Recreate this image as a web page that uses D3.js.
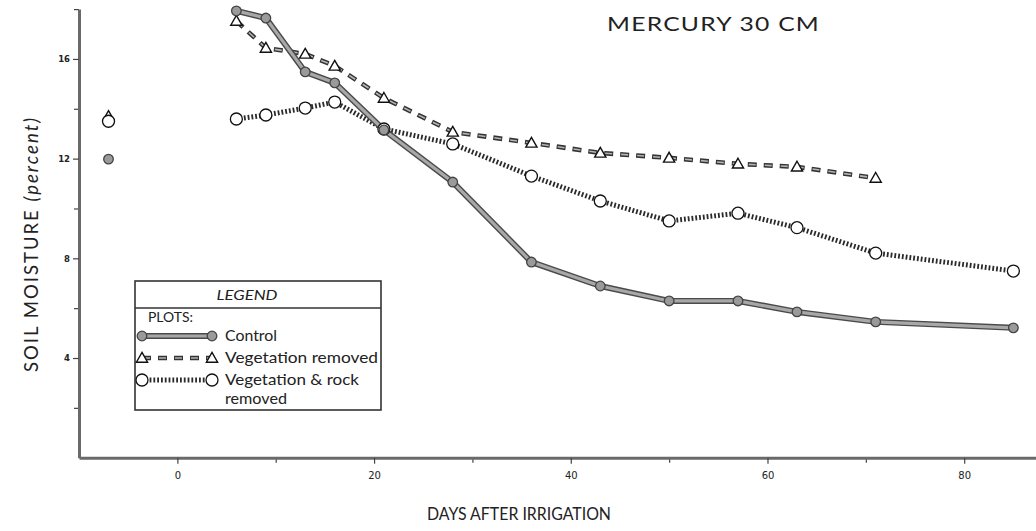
<!DOCTYPE html>
<html>
<head>
<meta charset="utf-8">
<script src="https://cdn.jsdelivr.net/npm/d3@7"></script>
<style>
  html, body { margin: 0; padding: 0; background: #fff; }
  svg { display: block; font-family: "Lato", "DejaVu Sans", sans-serif; }
</style>
</head>
<body>
<svg id="chart" width="1036" height="531"></svg>
<script>
// Sampling days after irrigation (shared by all plots)
const days = [6, 9, 13, 16, 21, 28, 36, 43, 50, 57, 63, 71, 85];
// Pre-irrigation reading
const preDay = -7;

// Soil moisture (percent) at 30 cm, Mercury site
const controlValues = [17.93, 17.64, 15.48, 15.04, 13.15, 11.06, 7.85, 6.89, 6.29, 6.29, 5.85, 5.45, 5.21];
const vegRemovedValues = [17.52, 16.44, 16.2, 15.72, 14.43, 13.07, 12.63, 12.23, 12.03, 11.79, 11.67, 11.22];
const vegRockValues = [13.59, 13.75, 14.03, 14.27, 13.19, 12.59, 11.3, 10.3, 9.5, 9.81, 9.23, 8.21, 7.49];
const preValues = { control: 11.98, vegRemoved: 13.7, vegRock: 13.5 };

const xMajorTicks = [0, 20, 40, 60, 80];
const xMinorTicks = [10, 30, 50, 70];
const yMajorTicks = [4, 8, 12, 16];
const yMinorTicks = [2, 6, 10, 14, 18];

const legendLabels = ["Control", "Vegetation removed", "Vegetation & rock", "removed"];

const svg = d3.select("#chart");
const ink = "#222";

const x = d3.scaleLinear().domain([-10, 87.3]).range([79, 1036]);
const y = d3.scaleLinear().domain([0, 18]).range([457.7, 9.1]);

// ---- axes ----
const axisG = svg.append("g");

function styleAxis(g) {
  g.select(".domain").attr("stroke", "#6a6a6a").attr("stroke-width", 3);
  g.selectAll(".tick line").attr("stroke", "#444").attr("stroke-width", 1.2);
  g.selectAll(".tick text").attr("fill", ink).attr("font-family", "DejaVu Sans, sans-serif");
}

// y axis
const yAxisMinor = axisG.append("g").attr("transform", `translate(${x(-10)},0)`)
  .call(d3.axisLeft(y).tickValues(yMinorTicks).tickSize(5).tickFormat("").tickSizeOuter(0));
yAxisMinor.select(".domain").remove();
yAxisMinor.selectAll(".tick line").attr("stroke", "#444").attr("stroke-width", 1.2);

const yAxis = axisG.append("g").attr("transform", `translate(${x(-10)},0)`)
  .call(d3.axisLeft(y).tickValues(yMajorTicks).tickSize(6).tickPadding(3).tickSizeOuter(0));
styleAxis(yAxis);
yAxis.selectAll(".tick text").attr("font-size", 8.5).attr("font-weight", "bold");

// x axis
const xAxisMinor = axisG.append("g").attr("transform", `translate(0,${y(0)})`)
  .call(d3.axisBottom(x).tickValues(xMinorTicks).tickSize(5).tickFormat("").tickSizeOuter(0));
xAxisMinor.select(".domain").remove();
xAxisMinor.selectAll(".tick line").attr("stroke", "#444").attr("stroke-width", 1.2);

const xAxis = axisG.append("g").attr("transform", `translate(0,${y(0)})`)
  .call(d3.axisBottom(x).tickValues(xMajorTicks).tickSize(6).tickPadding(8).tickSizeOuter(0));
styleAxis(xAxis);
xAxis.selectAll(".tick text").attr("font-size", 10);

// ---- series ----
const line = d3.line().x(d => x(d[0])).y(d => y(d[1]));
const ctrlPts = days.map((d, i) => [d, controlValues[i]]);
const vegPts = days.slice(0, vegRemovedValues.length).map((d, i) => [d, vegRemovedValues[i]]);
const rockPts = days.map((d, i) => [d, vegRockValues[i]]);

const plot = svg.append("g");

function drawControlLine(g, pts, lineFn) {
  g.append("path").attr("d", lineFn(pts)).attr("fill", "none")
    .attr("stroke", "#4a4a4a").attr("stroke-width", 6).attr("stroke-linejoin", "round");
  g.append("path").attr("d", lineFn(pts)).attr("fill", "none")
    .attr("stroke", "#a8a8a8").attr("stroke-width", 3.2).attr("stroke-linejoin", "round");
}
function drawDashedLine(g, pts, lineFn) {
  g.append("path").attr("d", lineFn(pts)).attr("fill", "none")
    .attr("stroke", "#333").attr("stroke-width", 4.6).attr("stroke-dasharray", "9,7");
  g.append("path").attr("d", lineFn(pts)).attr("fill", "none")
    .attr("stroke", "#b5b5b5").attr("stroke-width", 1.6).attr("stroke-dasharray", "7,9")
    .attr("stroke-dashoffset", -1);
}
function drawDottedLine(g, pts, lineFn) {
  g.append("path").attr("d", lineFn(pts)).attr("fill", "none")
    .attr("stroke", "#2a2a2a").attr("stroke-width", 5).attr("stroke-dasharray", "1.8,2");
}
function controlMarker(g, cx, cy) {
  g.append("circle").attr("cx", cx).attr("cy", cy).attr("r", 4.8)
    .attr("fill", "#9a9a9a").attr("stroke", "#444").attr("stroke-width", 1.3);
}
function triMarker(g, cx, cy) {
  const s = 5.6;
  g.append("path")
    .attr("d", `M${cx},${cy - s} L${cx + s},${cy + s * 0.75} L${cx - s},${cy + s * 0.75} Z`)
    .attr("fill", "#fff").attr("stroke", "#111").attr("stroke-width", 1.4).attr("stroke-linejoin", "miter");
}
function circMarker(g, cx, cy) {
  g.append("circle").attr("cx", cx).attr("cy", cy).attr("r", 6)
    .attr("fill", "#fff").attr("stroke", "#111").attr("stroke-width", 1.3);
}

drawDottedLine(plot, rockPts, line);
drawDashedLine(plot, vegPts, line);
drawControlLine(plot, ctrlPts, line);

rockPts.forEach(p => circMarker(plot, x(p[0]), y(p[1])));
vegPts.forEach(p => triMarker(plot, x(p[0]), y(p[1])));
ctrlPts.forEach(p => controlMarker(plot, x(p[0]), y(p[1])));

// pre-irrigation readings
triMarker(plot, x(preDay), y(preValues.vegRemoved));
circMarker(plot, x(preDay), y(preValues.vegRock));
controlMarker(plot, x(preDay), y(preValues.control));

// ---- titles ----
svg.append("text").attr("x", 607).attr("y", 31)
  .attr("font-size", 20).attr("fill", ink).attr("letter-spacing", 1)
  .attr("textLength", 213).attr("lengthAdjust", "spacingAndGlyphs")
  .text("MERCURY 30 CM");

svg.append("text").attr("x", 519).attr("y", 520).attr("text-anchor", "middle")
  .attr("font-size", 17).attr("fill", ink)
  .attr("textLength", 184).attr("lengthAdjust", "spacingAndGlyphs")
  .text("DAYS AFTER IRRIGATION");

const yl = svg.append("text").attr("transform", "translate(38,245) rotate(-90)")
  .attr("text-anchor", "middle").attr("font-size", 18.5).attr("fill", ink)
  .attr("textLength", 254).attr("lengthAdjust", "spacing");
yl.append("tspan").text("SOIL MOISTURE ");
yl.append("tspan").attr("font-style", "italic").text("(percent)");

// ---- legend ----
const lg = svg.append("g");
const lx0 = 135, ly0 = 281, lw = 246, lh = 129;
lg.append("rect").attr("x", lx0).attr("y", ly0).attr("width", lw).attr("height", lh)
  .attr("fill", "#fff").attr("stroke", "#333").attr("stroke-width", 1.6);
lg.append("line").attr("x1", lx0).attr("x2", lx0 + lw).attr("y1", 308).attr("y2", 308)
  .attr("stroke", "#333").attr("stroke-width", 1.4);
lg.append("text").attr("x", 247).attr("y", 300).attr("text-anchor", "middle")
  .attr("font-size", 14).attr("font-style", "italic").attr("fill", ink)
  .attr("textLength", 61).attr("lengthAdjust", "spacingAndGlyphs")
  .text("LEGEND");
lg.append("text").attr("x", 148).attr("y", 322).attr("font-size", 14).attr("fill", ink)
  .attr("textLength", 45).attr("lengthAdjust", "spacingAndGlyphs").text("PLOTS:");

const sx1 = 142, sx2 = 212;
const seg = d3.line();
drawControlLine(lg, [[sx1, 336], [sx2, 336]], seg);
controlMarker(lg, sx1, 336); controlMarker(lg, sx2, 336);
drawDashedLine(lg, [[sx1, 358], [sx2, 358]], seg);
triMarker(lg, sx1, 358); triMarker(lg, sx2, 358);
drawDottedLine(lg, [[sx1, 380], [sx2, 380]], seg);
circMarker(lg, sx1, 380); circMarker(lg, sx2, 380);

const legendText = [[legendLabels[0], 341, 52], [legendLabels[1], 363, 153], [legendLabels[2], 385, 134], [legendLabels[3], 404, 62]];
legendText.forEach(([t, yy, w]) => {
  lg.append("text").attr("x", 225).attr("y", yy).attr("font-size", 16).attr("fill", ink)
    .attr("textLength", w).attr("lengthAdjust", "spacingAndGlyphs").text(t);
});
</script>
</body>
</html>
